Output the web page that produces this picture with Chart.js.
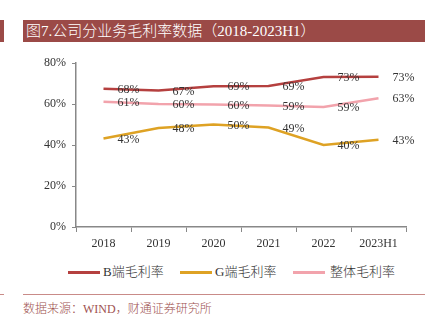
<!DOCTYPE html>
<html><head><meta charset="utf-8">
<script src="https://cdn.jsdelivr.net/npm/chart.js@4/dist/chart.umd.min.js"></script>
<style>
html,body{margin:0;padding:0;background:#fff;width:443px;height:331px;overflow:hidden;position:relative;font-family:"Liberation Serif","Noto Sans CJK SC",serif;}
#bar{position:absolute;left:23px;top:20px;width:402px;height:22px;background:#9b4a47;color:#fff;font-size:15px;line-height:22px;padding-left:3px;box-sizing:border-box;white-space:nowrap;font-weight:300;}
#mark{position:absolute;left:0;top:20px;width:4px;height:22px;background:#9b4a47;}
#wrap{position:absolute;left:0;top:50px;width:443px;height:210px;}
#legend{position:absolute;top:263px;left:0;width:443px;height:18px;font-size:13px;color:#333;font-weight:300;}
.li{position:absolute;top:0;line-height:18px;white-space:nowrap;}
.sw{position:absolute;top:8px;width:32px;height:3px;}
#rule{position:absolute;left:23px;top:294px;width:402px;height:1px;background:#c98b88;}
#mark2{position:absolute;left:0;top:294px;width:4px;height:1px;background:#c98b88;}
#src{position:absolute;left:23px;top:301px;font-size:12px;color:#a0524f;white-space:nowrap;line-height:16px;font-weight:300;}
</style></head><body>
<div id="mark"></div>
<div id="bar">图7.公司分业务毛利率数据（2018-2023H1）</div>
<div id="wrap"><canvas id="c" width="443" height="210"></canvas></div>
<div id="legend">
  <div class="sw" style="left:68px;background:#b5403f"></div><div class="li" style="left:103px">B端毛利率</div>
  <div class="sw" style="left:180px;background:#dea224"></div><div class="li" style="left:215px">G端毛利率</div>
  <div class="sw" style="left:293px;background:#f2a3ac"></div><div class="li" style="left:330px">整体毛利率</div>
</div>
<div id="mark2"></div>
<div id="rule"></div>
<div id="src">数据来源：WIND，财通证券研究所</div>
<script>
const categories = ["2018","2019","2020","2021","2022","2023H1"];
const bValues = [67.5, 66.7, 68.8, 68.9, 73.2, 73.4];
const gValues = [43.2, 48.3, 50.0, 48.6, 40.1, 42.6];
const totalValues = [61.2, 60.1, 59.8, 59.3, 58.6, 62.9];
const yTicks = [0, 20, 40, 60, 80];

const FONT = '"Liberation Serif","Noto Sans CJK SC",serif';

const labelPlugin = {
  id: 'valLabels',
  afterDatasetsDraw(chart) {
    const ctx = chart.ctx;
    ctx.save();
    ctx.font = '12px ' + FONT;
    ctx.fillStyle = '#333';
    ctx.textAlign = 'center';
    ctx.textBaseline = 'middle';
    chart.data.datasets.forEach((ds, i) => {
      const meta = chart.getDatasetMeta(i);
      meta.data.forEach((pt, j) => {
        ctx.fillText(Math.round(ds.data[j]) + '%', pt.x + 25, pt.y + 1);
      });
    });
    ctx.restore();
  }
};

new Chart(document.getElementById('c'), {
  type: 'line',
  data: {
    labels: categories,
    datasets: [
      {label:'B端毛利率', data:bValues, borderColor:'#b5403f', borderWidth:2.5, pointRadius:0, tension:0},
      {label:'G端毛利率', data:gValues, borderColor:'#dea224', borderWidth:2.5, pointRadius:0, tension:0},
      {label:'整体毛利率', data:totalValues, borderColor:'#f2a3ac', borderWidth:2.5, pointRadius:0, tension:0}
    ]
  },
  options: {
    responsive:false, animation:false,
    layout:{padding:{top:10,right:37,left:0,bottom:0}},
    plugins:{legend:{display:false}, tooltip:{enabled:false}},
    scales:{
      x:{
        offset:true,
        grid:{display:true, drawOnChartArea:false, offset:true, tickLength:5, color:'#888', lineWidth:1},
        border:{color:'#888', width:1.5},
        ticks:{color:'#333', font:{family:FONT, size:12}, padding:5, maxRotation:0},
        afterFit(s){ s.height = 33; }
      },
      y:{
        min:0, max:80,
        afterBuildTicks(s){ s.ticks = yTicks.map(v=>({value:v})); },
        grid:{display:true, drawOnChartArea:false, tickLength:4, color:'#888'},
        border:{color:'#888', width:1.5},
        ticks:{color:'#333', font:{family:FONT, size:12}, padding:6, callback:v=>v+'%'},
        afterFit(s){ s.width = 76; }
      }
    }
  },
  plugins:[labelPlugin]
});
</script>
</body></html>
